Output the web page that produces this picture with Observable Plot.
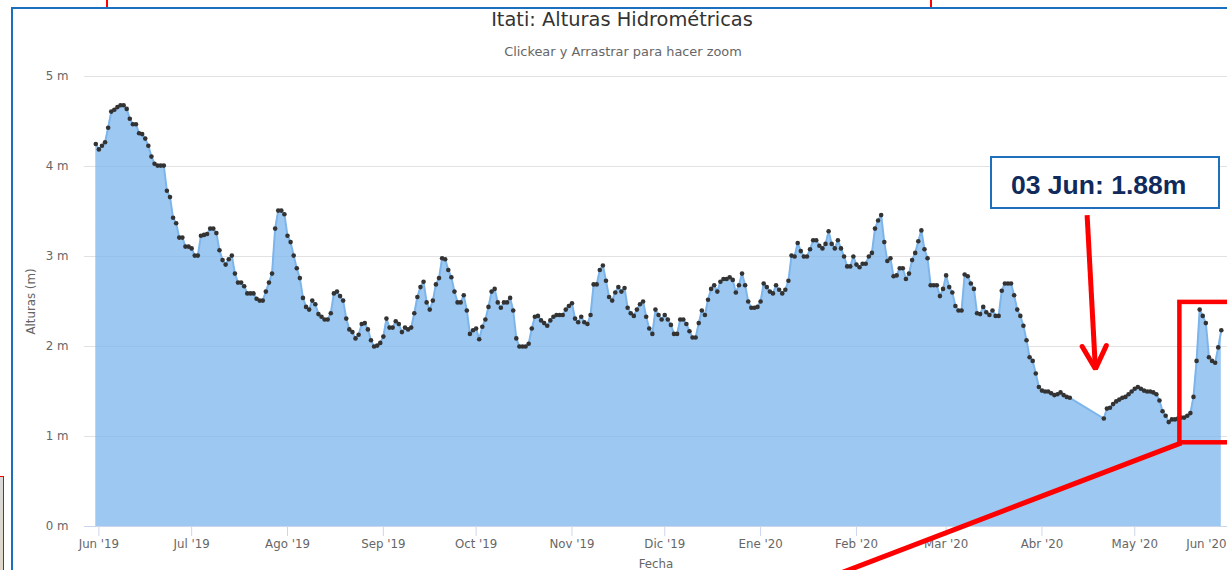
<!DOCTYPE html>
<html>
<head>
<meta charset="utf-8">
<script src="https://cdn.jsdelivr.net/npm/d3@7"></script>
<script src="https://cdn.jsdelivr.net/npm/@observablehq/plot@0.6"></script>
<style>
html,body{margin:0;padding:0;background:#fff;}
body{width:1227px;height:570px;overflow:hidden;position:relative;font-family:"DejaVu Sans",sans-serif;}
#chart{position:absolute;left:0;top:0;}
#frame{position:absolute;left:11px;top:7px;width:1400px;height:800px;border-top:2px solid #1b6fbf;border-left:2px solid #1b6fbf;pointer-events:none;}
#title{position:absolute;left:0;width:1244px;top:9.6px;line-height:1;text-align:center;font-size:19.4px;color:#333;white-space:nowrap;}
#subtitle{position:absolute;left:0;width:1246px;top:45.6px;line-height:1;text-align:center;font-size:12.9px;color:#666;white-space:nowrap;}
.redmark{position:absolute;top:0;width:2px;height:7px;background:#f00;}
#leftbox{position:absolute;left:-20px;top:476px;width:22px;height:200px;border:1.5px solid #e00;background:linear-gradient(#d9d9d9,#e8d7b5);}
#callout{position:absolute;left:990px;top:156px;width:226px;height:49px;border:2px solid #1f6fbd;background:#fff;}
#callout span{position:absolute;left:19px;top:12px;line-height:1;font:bold 26.5px "Liberation Sans",Arial,sans-serif;color:#102a5c;white-space:nowrap;}
</style>
</head>
<body>
<div id="chart"></div>
<div id="frame"></div>
<div class="redmark" style="left:106px"></div>
<div class="redmark" style="left:930px"></div>
<div id="leftbox"></div>
<div id="title">Itati: Alturas Hidrométricas</div>
<div id="subtitle">Clickear y Arrastrar para hacer zoom</div>
<div id="callout"><span>03 Jun: 1.88m</span></div>
<script>
// ---- data ----
const firstReading = "2019-05-31"; // date of the first daily reading
// daily water level (m), one value per day from firstReading; null = no reading
const heights = [
  4.25,4.19,4.23,4.27,4.43,4.61,4.63,4.66,4.68,4.68,
  4.64,4.53,4.47,4.47,4.37,4.36,4.31,4.23,4.11,4.03,
  4.01,4.01,4.01,3.73,3.66,3.43,3.37,3.21,3.21,3.11,
  3.11,3.09,3.01,3.01,3.23,3.24,3.25,3.31,3.31,3.26,
  3.07,2.96,2.91,2.97,3.01,2.81,2.71,2.71,2.67,2.59,
  2.59,2.59,2.53,2.51,2.51,2.61,2.71,2.81,3.31,3.51,
  3.51,3.47,3.23,3.16,3.01,2.87,2.76,2.54,2.44,2.41,
  2.51,2.47,2.36,2.33,2.30,2.30,2.37,2.59,2.61,2.56,
  2.51,2.31,2.19,2.16,2.09,2.13,2.25,2.26,2.19,2.07,
  2.00,2.01,2.04,2.11,2.31,2.21,2.21,2.28,2.25,2.16,
  2.21,2.19,2.21,2.37,2.55,2.66,2.72,2.49,2.41,2.51,
  2.69,2.76,2.98,2.97,2.85,2.77,2.61,2.49,2.49,2.57,
  2.40,2.14,2.18,2.20,2.08,2.22,2.30,2.44,2.61,2.64,
  2.49,2.43,2.49,2.49,2.54,2.40,2.09,2.00,2.00,2.00,
  2.03,2.20,2.33,2.34,2.29,2.26,2.23,2.29,2.33,2.35,
  2.35,2.35,2.41,2.45,2.48,2.31,2.27,2.33,2.27,2.25,
  2.35,2.69,2.69,2.85,2.90,2.73,2.55,2.51,2.60,2.66,
  2.61,2.65,2.43,2.37,2.34,2.41,2.47,2.50,2.33,2.20,
  2.14,2.41,2.35,2.30,2.35,2.30,2.24,2.14,2.14,2.30,
  2.30,2.25,2.17,2.10,2.10,2.26,2.40,2.35,2.52,2.64,
  2.68,2.61,2.72,2.75,2.75,2.77,2.74,2.60,2.68,2.81,
  2.68,2.50,2.43,2.43,2.44,2.50,2.70,2.66,2.61,2.59,
  2.68,2.63,2.59,2.63,2.73,3.01,3.00,3.15,3.06,3.00,
  3.00,3.08,3.18,3.18,3.12,3.09,3.14,3.28,3.14,3.09,
  3.18,3.09,3.00,2.89,2.89,3.00,2.91,2.88,2.92,2.92,
  3.00,3.04,3.31,3.40,3.46,3.16,2.95,2.98,2.78,2.79,
  2.87,2.87,2.75,2.81,2.96,3.04,3.17,3.29,3.08,2.98,
  2.68,2.68,2.68,2.56,2.64,2.79,2.66,2.60,2.45,2.40,
  2.40,2.80,2.78,2.70,2.64,2.37,2.36,2.44,2.38,2.35,
  2.40,2.34,2.34,2.62,2.70,2.70,2.70,2.57,2.41,2.34,
  2.23,2.07,1.88,1.84,1.70,1.55,1.51,1.50,1.50,1.48,
  1.46,1.47,1.49,1.46,1.44,1.43,null,null,null,null,
  null,null,null,null,null,null,1.20,1.31,1.32,1.36,
  1.39,1.41,1.43,1.44,1.47,1.50,1.53,1.55,1.53,1.51,
  1.50,1.50,1.49,1.47,1.40,1.28,1.23,1.16,1.19,1.19,
  1.20,1.21,1.21,1.23,1.26,1.44,1.84,2.41,2.34,2.26,
  1.88,1.84,1.82,1.99,2.18
];
const monthTicks = ["2019-06-01","2019-07-01","2019-08-01","2019-09-01","2019-10-01","2019-11-01",
                    "2019-12-01","2020-01-01","2020-02-01","2020-03-01","2020-04-01","2020-05-01","2020-06-01"];
const monthLabels = ["Jun '19","Jul '19","Ago '19","Sep '19","Oct '19","Nov '19",
                     "Dic '19","Ene '20","Feb '20","Mar '20","Abr '20","May '20","Jun '20"];
const yTicks = [0, 1, 2, 3, 4, 5];

// hand-drawn annotations (day offset from firstReading, metres)
const arrowShaft = [{d1: 320.6, v1: 3.46, d2: 323.2, v2: 1.80}];
const arrowHead = [{d: 319.0, v: 2.00}, {d: 323.3, v: 1.75}, {d: 326.8, v: 2.01}];
const zoomBox = [{d1: 350.6, d2: 375, v1: 0.93, v2: 2.49}];
const zoomLink = [{d1: 351.1, v1: 0.93, d2: 234.6, v2: -0.60}];

// ---- build ----
const DAY = 864e5;
const t0 = new Date(firstReading).getTime();
const day = n => new Date(t0 + n * DAY);
const series = heights.map((v, i) => ({date: day(i), value: v})).filter(d => d.value != null);
const tickDates = monthTicks.map(s => new Date(s));
const labelOf = new Map(tickDates.map((d, i) => [+d, monthLabels[i]]));
const axisTicks = tickDates.slice(0, -1);
const lastTick = [{date: tickDates[tickDates.length - 1], label: monthLabels[monthLabels.length - 1]}];

const chart = Plot.plot({
  width: 1227,
  height: 570,
  marginLeft: 84,
  marginRight: 0,
  marginTop: 76,
  marginBottom: 44,
  style: {fontFamily: "DejaVu Sans", fontSize: "11.8px", color: "#666", background: "transparent"},
  x: {type: "utc", domain: [day(-3.65), day(366)]},
  y: {domain: [0, 5]},
  marks: [
    Plot.gridY(yTicks, {stroke: "#e2e2e2", strokeOpacity: 1}),
    Plot.areaY(series, {x: "date", y: "value", fill: "#7cb5ec", fillOpacity: 0.75}),
    Plot.lineY(series, {x: "date", y: "value", stroke: "#7cb5ec", strokeWidth: 2}),
    Plot.dot(series, {x: "date", y: "value", r: 2.3, fill: "#333"}),
    Plot.ruleY([0], {stroke: "#ccd6eb"}),
    Plot.axisY({ticks: yTicks, tickSize: 0, tickPadding: 16, tickFormat: d => `${d} m`,
      fill: "#666", fontSize: 11.8,
      label: "Alturas (m)", labelAnchor: "center", labelOffset: 58, labelArrow: false}),
    Plot.axisX({ticks: axisTicks, tickSize: 10, tickPadding: 3, stroke: "#ccd6eb", strokeOpacity: 1,
      fill: "#666", fontSize: 11.8, tickFormat: d => labelOf.get(+d),
      label: "Fecha", labelAnchor: "center", labelOffset: 41, labelArrow: false}),
    Plot.text(lastTick, {x: "date", text: "label", frameAnchor: "bottom", lineAnchor: "top",
      dy: 13, dx: -4, textAnchor: "end", fill: "#666", fontSize: 11.8}),
    // annotations
    Plot.rect(zoomBox, {x1: d => day(d.d1), x2: d => day(d.d2), y1: "v1", y2: "v2",
      fill: "none", stroke: "#ff0000", strokeWidth: 4.5}),
    Plot.link(zoomLink, {x1: d => day(d.d1), y1: "v1", x2: d => day(d.d2), y2: "v2",
      stroke: "#ff0000", strokeWidth: 5}),
    Plot.link(arrowShaft, {x1: d => day(d.d1), y1: "v1", x2: d => day(d.d2), y2: "v2",
      stroke: "#ff0000", strokeWidth: 5}),
    Plot.line(arrowHead, {x: d => day(d.d), y: "v", stroke: "#ff0000", strokeWidth: 5,
      strokeLinejoin: "miter", curve: "linear"})
  ]
});
document.getElementById("chart").appendChild(chart);
</script>
</body>
</html>
